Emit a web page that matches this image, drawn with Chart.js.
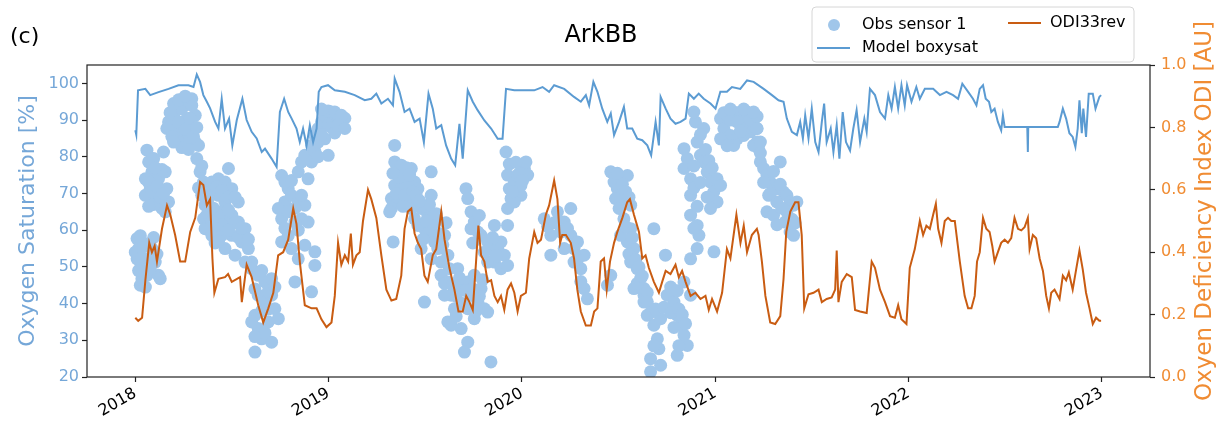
<!DOCTYPE html>
<html>
<head>
<meta charset="utf-8">
<script src="https://cdn.jsdelivr.net/npm/chart.js@4.4.1/dist/chart.umd.min.js"></script>
<style>
  html, body { margin: 0; padding: 0; background: #fff; }
  canvas { display: block; }
</style>
</head>
<body>
<canvas id="arkbb" width="1220" height="423"></canvas>
<script>
// ArkBB station: observed saturation, modelled saturation and the ODI index
const FONT = '"DejaVu Sans", sans-serif';

const yearTicks = [2018, 2019, 2020, 2021, 2022, 2023];
const saturationTicks = [20, 30, 40, 50, 60, 70, 80, 90, 100];
const odiTicks = [0, 0.2, 0.4, 0.6, 0.8, 1.0];

// [decimal year, oxygen saturation %]
const obsSensor1 = [
  [2018.009,57.7],[2018.017,55.0],[2018.009,52.2],[2018.026,49.5],[2018.034,46.8],[2018.026,45.0],[2018.052,56.3],[2018.069,52.2],
  [2018.086,55.0],[2018.103,51.3],[2018.120,47.7],[2018.129,46.8],[2018.043,50.4],[2018.060,47.7],
  [2018.000,54.0],[2018.017,49.0],[2018.034,52.5],[2018.043,55.5],[2018.077,49.5],[2018.095,58.0],[2018.112,53.5],[2018.026,58.5],[2018.052,44.5],
  [2018.060,81.8],[2018.069,78.6],[2018.086,75.9],[2018.052,74.0],[2018.077,71.3],[2018.103,69.5],[2018.120,67.7],[2018.138,65.9],
  [2018.052,69.5],[2018.120,74.0],[2018.155,75.9],[2018.146,81.3],[2018.163,71.3],[2018.095,79.5],[2018.172,67.7],[2018.155,65.0],
  [2018.069,73.0],[2018.086,70.5],[2018.095,67.0],[2018.112,72.0],[2018.129,69.0],[2018.138,76.5],[2018.069,66.5],[2018.103,77.0],[2018.146,70.0],
  [2018.172,89.5],[2018.206,92.2],[2018.241,93.1],[2018.275,94.9],[2018.292,94.0],[2018.310,91.3],[2018.206,87.7],[2018.241,86.8],
  [2018.275,84.9],[2018.292,87.7],[2018.163,87.7],[2018.224,84.0],[2018.310,84.0],[2018.267,90.4],[2018.189,90.4],[2018.327,83.1],[2018.292,95.8],
  [2018.180,92.0],[2018.198,94.5],[2018.224,95.5],[2018.258,96.5],[2018.224,89.5],[2018.258,87.5],[2018.284,90.5],[2018.301,85.5],
  [2018.318,88.0],[2018.189,85.5],[2018.241,82.5],[2018.275,82.0],[2018.198,84.0],
  [2018.318,79.5],[2018.335,75.9],[2018.353,73.1],[2018.344,69.5],[2018.361,66.8],[2018.370,64.1],[2018.353,63.1],
  [2018.396,73.1],[2018.430,74.0],[2018.464,73.1],[2018.499,71.3],[2018.533,67.7],[2018.430,69.5],[2018.464,67.7],[2018.499,64.1],
  [2018.533,62.2],[2018.568,60.4],[2018.430,65.0],[2018.464,62.2],[2018.499,58.6],[2018.550,56.8],[2018.585,55.0],[2018.602,51.3],
  [2018.378,64.1],[2018.413,60.4],[2018.447,58.6],[2018.464,55.0],[2018.516,53.2],[2018.568,51.3],[2018.361,60.4],[2018.378,68.6],
  [2018.482,76.8],[2018.396,58.6],
  [2018.327,71.5],[2018.344,77.5],[2018.387,70.5],[2018.404,66.0],[2018.421,71.8],[2018.447,70.8],[2018.447,64.0],[2018.482,69.0],
  [2018.482,65.5],[2018.516,69.0],[2018.516,62.0],[2018.413,56.5],[2018.447,61.5],[2018.482,60.0],[2018.533,58.0],[2018.550,60.5],
  [2018.585,57.5],[2018.396,62.5],[2018.430,57.0],
  [2018.602,49.5],[2018.636,47.7],[2018.671,45.9],[2018.705,46.8],[2018.636,42.3],[2018.671,40.4],[2018.705,42.3],[2018.722,38.6],
  [2018.619,36.8],[2018.636,33.2],[2018.654,30.4],[2018.705,29.5],[2018.619,26.8],[2018.602,35.0],[2018.740,35.9],[2018.688,35.0],
  [2018.619,44.0],[2018.654,38.0],[2018.688,43.5],[2018.671,32.0],[2018.619,31.0],[2018.688,38.5],[2018.722,44.5],[2018.654,49.0],
  [2018.757,74.9],[2018.791,71.3],[2018.774,67.7],[2018.808,69.5],[2018.843,67.7],[2018.877,66.8],[2018.860,63.1],[2018.826,62.2],
  [2018.894,62.2],[2018.740,65.9],[2018.757,63.1],[2018.774,73.1],
  [2018.757,56.8],[2018.808,55.0],[2018.843,52.2],[2018.877,55.9],[2018.929,54.1],[2018.929,50.4],[2018.826,45.9],[2018.912,43.2],
  [2018.791,65.0],[2018.808,73.5],[2018.826,66.0],[2018.860,69.5],[2018.774,60.5],[2018.791,58.5],[2018.843,60.0],
  [2018.843,75.9],[2018.860,78.6],[2018.877,80.4],[2018.912,83.1],[2018.929,85.8],[2018.946,87.7],[2018.963,89.5],[2018.980,91.3],
  [2019.015,92.2],[2019.032,90.4],[2018.998,88.6],[2018.912,78.6],[2018.998,80.4],[2018.894,74.0],[2018.980,84.9],[2019.049,91.3],
  [2018.929,81.5],[2018.946,84.0],[2018.963,86.0],[2018.998,92.5],[2019.015,88.0],[2018.963,93.0],[2019.032,86.5],[2019.066,88.5],
  [2019.084,90.5],[2018.946,80.0],
  [2019.032,92.2],[2019.066,91.3],[2019.049,88.6],[2019.084,87.7],[2019.342,83.1],
  [2019.342,78.6],[2019.376,77.7],[2019.359,75.0],[2019.393,74.0],[2019.428,76.8],[2019.342,72.2],[2019.376,71.3],[2019.411,72.2],
  [2019.445,73.1],[2019.325,68.6],[2019.359,67.7],[2019.411,68.6],[2019.445,67.7],[2019.462,71.3],[2019.428,65.9],[2019.325,65.9],
  [2019.531,75.9],[2019.334,56.8],[2019.316,65.0],
  [2019.351,70.0],[2019.368,74.5],[2019.393,69.5],[2019.402,77.0],[2019.419,75.0],[2019.436,70.5],[2019.385,66.5],[2019.453,69.5],[2019.333,75.5],
  [2019.479,65.9],[2019.514,64.1],[2019.548,62.2],[2019.531,69.5],[2019.514,58.6],[2019.548,56.8],[2019.565,55.0],[2019.600,58.6],
  [2019.582,51.3],[2019.617,53.2],[2019.496,60.4],[2019.462,61.3],[2019.479,55.0],[2019.531,52.2],[2019.445,63.1],
  [2019.497,66.5],[2019.505,62.5],[2019.522,67.0],[2019.540,60.0],[2019.557,64.5],[2019.574,59.0],[2019.591,56.0],[2019.488,57.5],
  [2019.471,68.0],[2019.608,62.0],
  [2019.582,47.7],[2019.617,45.9],[2019.634,42.3],[2019.668,49.5],[2019.686,44.1],[2019.720,45.9],[2019.737,42.3],[2019.754,47.7],
  [2019.772,40.4],[2019.806,38.6],[2019.789,44.1],[2019.651,38.6],[2019.600,42.3],[2019.496,40.4],[2019.720,38.6],[2019.754,35.9],
  [2019.617,35.0],[2019.634,34.1],[2019.686,33.2],[2019.720,29.5],[2019.703,26.8],[2019.823,37.7],[2019.840,24.1],
  [2019.600,45.5],[2019.625,49.5],[2019.642,45.0],[2019.660,42.0],[2019.677,47.0],[2019.694,40.0],[2019.711,43.5],[2019.746,44.0],
  [2019.763,38.0],[2019.780,42.0],[2019.797,46.5],[2019.660,36.5],
  [2019.711,71.3],[2019.720,68.6],[2019.737,65.0],[2019.754,62.2],[2019.789,58.6],[2019.823,56.8],[2019.840,55.0],[2019.858,51.3],
  [2019.892,49.5],[2019.823,51.3],[2019.858,61.3],[2019.737,60.4],[2019.875,55.0],[2019.909,53.2],[2019.926,50.4],[2019.892,56.8],[2019.926,61.3],
  [2019.746,56.5],[2019.772,59.5],[2019.806,54.0],[2019.849,58.0],[2019.866,53.0],[2019.780,64.0],
  [2019.918,81.3],[2019.926,75.0],[2019.935,71.3],[2019.944,68.6],[2019.926,65.9],[2019.961,73.1],[2019.978,75.0],[2019.995,72.2],
  [2020.013,76.8],[2020.021,78.6],[2019.995,69.5],[2019.961,67.7],[2020.030,75.0],
  [2019.935,78.0],[2019.952,70.5],[2019.969,78.5],[2019.987,75.5],[2020.004,73.5],
  [2020.460,75.9],[2020.477,73.1],[2020.494,71.3],[2020.511,69.5],[2020.528,67.7],[2020.546,74.9],[2020.563,66.8],[2020.485,68.6],[2020.503,65.9],
  [2020.494,75.5],[2020.520,72.5],[2020.537,70.5],[2020.554,69.0],
  [2020.116,63.1],[2020.150,58.6],[2020.184,65.0],[2020.219,62.2],[2020.253,65.9],[2020.253,58.6],[2020.288,56.8],[2020.322,53.2],
  [2020.305,49.5],[2020.322,44.1],[2020.339,41.3],[2020.219,55.0],[2020.150,53.2],[2020.270,51.3],
  [2020.133,61.0],[2020.167,62.0],[2020.201,59.5],[2020.236,60.5],[2020.270,55.0],[2020.288,52.0],[2020.305,46.0],
  [2020.443,45.0],[2020.460,47.7],[2020.528,63.1],[2020.563,60.4],[2020.546,56.8],[2020.580,55.0],[2020.563,51.3],[2020.597,49.5],
  [2020.614,46.8],[2020.632,44.1],[2020.580,44.1],[2020.632,42.3],[2020.511,58.6],
  [2020.537,61.0],[2020.554,53.5],[2020.572,58.0],[2020.589,52.0],[2020.606,50.0],[2020.597,45.5],[2020.623,47.5],[2020.649,43.0],
  [2020.632,40.4],[2020.649,36.8],[2020.683,34.1],[2020.701,30.4],[2020.709,27.7],[2020.718,35.9],[2020.752,42.3],[2020.787,40.4],
  [2020.804,36.8],[2020.821,34.1],[2020.839,31.4],[2020.856,28.6],[2020.804,25.9],[2020.666,25.0],[2020.718,23.2],[2020.666,21.4],
  [2020.873,42.3],[2020.839,45.9],
  [2020.649,40.5],[2020.666,37.5],[2020.692,38.5],[2020.735,39.0],[2020.770,37.5],[2020.787,33.5],[2020.812,38.5],[2020.830,37.0],
  [2020.683,28.5],[2020.847,34.5],[2020.812,28.5],[2020.770,44.5],[2020.804,43.5],
  [2020.683,60.4],[2020.743,53.2],[2020.873,52.2],[2020.907,55.0],[2020.994,54.1],
  [2020.839,82.2],[2020.839,76.8],[2020.873,74.0],[2020.873,69.5],[2020.873,64.1],[2020.907,61.3],[2020.898,89.5],[2020.907,84.0],
  [2020.924,80.4],[2020.941,78.6],[2020.959,75.9],[2020.976,73.1],[2020.993,70.4],[2021.010,67.7],[2020.976,65.9],[2020.941,87.7],
  [2020.890,92.2],[2021.010,74.0],[2021.028,72.2],[2020.916,58.6],
  [2020.856,79.5],[2020.890,71.5],[2020.890,77.5],[2020.924,73.0],[2020.924,86.0],[2020.950,82.0],[2020.967,79.0],[2020.985,77.0],
  [2020.907,66.5],[2020.890,60.5],[2020.959,69.0],
  [2021.028,90.4],[2021.062,91.3],[2021.096,92.2],[2021.131,92.2],[2021.165,92.2],[2021.199,91.3],[2021.045,87.7],[2021.079,85.8],
  [2021.114,84.9],[2021.148,85.8],[2021.182,86.8],[2021.217,87.7],[2021.028,84.9],[2021.096,83.1],[2021.217,84.0],[2021.148,89.5],
  [2021.045,92.0],[2021.079,90.0],[2021.114,89.5],[2021.165,88.0],[2021.199,88.5],[2021.062,83.0],[2021.131,87.0],[2021.182,90.0],
  [2021.079,93.0],[2021.148,93.0],[2021.217,91.0],
  [2021.199,92.2],[2021.216,87.7],[2021.225,82.2],[2021.234,78.6],[2021.251,76.8],[2021.268,75.0],[2021.285,73.1],[2021.302,72.2],
  [2021.319,71.3],[2021.337,78.6],[2021.354,70.4],[2021.371,69.5],[2021.388,67.7],[2021.406,66.8],[2021.268,65.0],[2021.302,64.1],
  [2021.362,62.2],[2021.388,59.5],[2021.406,58.6],[2021.199,83.1],[2021.234,84.0],[2021.423,67.7],[2021.319,67.7],[2021.277,69.5],
  [2021.234,81.0],[2021.251,73.0],[2021.285,70.0],[2021.302,76.0],[2021.337,72.5],[2021.371,65.0],[2021.397,63.0],[2021.345,66.0],
  [2021.320,61.5],[2021.414,62.0]
];

// [decimal year, modelled saturation %]
const modelBoxysat = [
  [2018.000,87.2],[2018.005,86.0],[2018.014,98.1],[2018.052,98.5],[2018.077,96.8],[2018.120,97.6],[2018.172,98.5],[2018.223,99.5],
  [2018.275,99.5],[2018.301,99.0],[2018.318,102.4],[2018.335,100.4],[2018.352,96.8],[2018.370,95.0],[2018.387,93.2],[2018.413,89.5],
  [2018.430,87.7],[2018.447,95.8],[2018.464,87.7],[2018.485,90.4],[2018.502,83.1],[2018.525,90.0],[2018.554,95.8],[2018.576,90.0],
  [2018.602,86.8],[2018.628,85.0],[2018.654,81.3],[2018.671,82.2],[2018.705,79.5],[2018.731,77.2],[2018.748,92.2],[2018.770,95.8],
  [2018.791,92.2],[2018.809,90.4],[2018.834,87.7],[2018.851,84.0],[2018.868,87.7],[2018.886,83.1],[2018.903,88.6],[2018.920,84.0],
  [2018.938,87.7],[2018.949,97.7],[2018.963,99.0],[2018.997,99.5],[2019.032,98.1],[2019.084,97.7],[2019.135,96.8],[2019.187,95.4],
  [2019.221,95.8],[2019.247,97.2],[2019.273,94.5],[2019.307,95.8],[2019.333,94.0],[2019.342,101.3],[2019.367,97.7],[2019.393,92.2],
  [2019.419,93.1],[2019.445,89.5],[2019.471,90.4],[2019.493,84.0],[2019.517,97.2],[2019.539,93.1],[2019.557,87.7],[2019.583,88.6],
  [2019.608,83.1],[2019.634,79.5],[2019.655,77.7],[2019.677,89.0],[2019.694,79.5],[2019.720,98.1],[2019.746,95.0],[2019.771,92.7],
  [2019.806,89.9],[2019.841,87.7],[2019.875,84.9],[2019.900,84.9],[2019.918,98.5],[2019.961,98.1],[2020.012,98.1],[2020.064,98.1],
  [2020.107,99.0],[2020.141,97.7],[2020.167,99.5],[2020.219,98.5],[2020.270,96.3],[2020.305,95.0],[2020.331,96.8],[2020.348,94.0],
  [2020.370,100.4],[2020.391,97.7],[2020.416,93.1],[2020.442,89.5],[2020.460,91.8],[2020.477,85.9],[2020.503,89.5],[2020.528,93.6],
  [2020.545,87.7],[2020.571,87.7],[2020.597,84.9],[2020.623,84.5],[2020.649,83.1],[2020.669,80.4],[2020.692,89.5],[2020.709,83.1],
  [2020.718,96.3],[2020.744,93.1],[2020.769,90.4],[2020.795,89.0],[2020.821,89.5],[2020.847,90.4],[2020.864,97.2],[2020.890,95.8],
  [2020.915,97.2],[2020.941,95.8],[2020.976,94.5],[2021.002,93.1],[2021.027,97.7],[2021.061,97.7],[2021.087,99.0],[2021.130,98.5],
  [2021.165,100.8],[2021.199,100.4],[2021.251,98.5],[2021.294,96.8],[2021.328,95.4],[2021.354,95.0],[2021.371,90.4],[2021.397,86.8],
  [2021.423,85.9],[2021.440,89.5],[2021.454,85.0],[2021.466,91.3],[2021.483,85.0],[2021.500,93.1],[2021.518,84.0],[2021.535,81.3],
  [2021.552,89.5],[2021.564,94.5],[2021.577,84.0],[2021.598,87.7],[2021.612,81.3],[2021.629,88.6],[2021.643,79.5],[2021.660,92.2],
  [2021.677,84.0],[2021.698,81.7],[2021.715,87.7],[2021.732,92.7],[2021.750,84.0],[2021.772,90.4],[2021.784,86.8],[2021.801,98.5],
  [2021.827,96.8],[2021.853,92.2],[2021.879,90.4],[2021.896,96.8],[2021.913,93.1],[2021.930,99.0],[2021.947,93.1],[2021.964,99.5],
  [2021.981,94.0],[2021.993,99.5],[2022.016,95.0],[2022.041,99.0],[2022.059,95.8],[2022.085,98.5],[2022.128,98.5],[2022.163,96.8],
  [2022.197,97.7],[2022.231,96.8],[2022.257,95.8],[2022.279,99.9],[2022.309,97.7],[2022.334,95.8],[2022.352,94.0],[2022.369,98.5],
  [2022.386,99.5],[2022.400,95.8],[2022.417,95.0],[2022.429,92.2],[2022.446,93.1],[2022.463,89.5],[2022.480,87.2],[2022.489,91.3],
  [2022.498,88.1],[2022.615,88.1],[2022.618,81.3],[2022.620,88.1],[2022.773,88.1],[2022.782,89.5],[2022.799,93.1],[2022.816,90.4],
  [2022.833,86.4],[2022.850,85.4],[2022.864,82.7],[2022.876,87.7],[2022.885,95.4],[2022.897,86.4],[2022.905,93.1],[2022.919,85.4],
  [2022.933,97.2],[2022.954,97.2],[2022.968,93.1],[2022.988,96.3],[2022.997,96.8]
];

// [decimal year, oxygen deficiency index]
const odi33rev = [
  [2018.000,0.19],[2018.015,0.18],[2018.035,0.19],[2018.052,0.31],[2018.072,0.43],[2018.086,0.40],[2018.100,0.42],[2018.112,0.37],
  [2018.138,0.475],[2018.164,0.55],[2018.181,0.52],[2018.206,0.455],[2018.232,0.37],[2018.258,0.37],[2018.284,0.465],[2018.310,0.51],
  [2018.335,0.625],[2018.352,0.615],[2018.370,0.55],[2018.387,0.57],[2018.399,0.38],[2018.409,0.27],[2018.430,0.315],[2018.464,0.32],
  [2018.480,0.33],[2018.499,0.305],[2018.542,0.32],[2018.551,0.24],[2018.576,0.36],[2018.602,0.32],[2018.636,0.23],[2018.662,0.175],
  [2018.688,0.22],[2018.714,0.27],[2018.739,0.39],[2018.765,0.40],[2018.791,0.44],[2018.817,0.54],[2018.834,0.49],[2018.851,0.37],
  [2018.877,0.23],[2018.912,0.22],[2018.938,0.22],[2018.963,0.185],[2018.989,0.16],[2019.015,0.175],[2019.032,0.26],[2019.049,0.43],
  [2019.066,0.36],[2019.084,0.39],[2019.101,0.37],[2019.115,0.46],[2019.126,0.36],[2019.144,0.39],[2019.161,0.40],[2019.178,0.50],
  [2019.204,0.60],[2019.221,0.57],[2019.247,0.51],[2019.273,0.39],[2019.299,0.28],[2019.325,0.245],[2019.350,0.25],[2019.376,0.325],
  [2019.393,0.475],[2019.410,0.53],[2019.428,0.54],[2019.445,0.46],[2019.462,0.43],[2019.479,0.41],[2019.496,0.325],[2019.513,0.305],
  [2019.539,0.39],[2019.557,0.41],[2019.583,0.53],[2019.600,0.44],[2019.625,0.35],[2019.651,0.28],[2019.672,0.21],[2019.694,0.21],
  [2019.712,0.26],[2019.729,0.24],[2019.746,0.215],[2019.763,0.37],[2019.775,0.485],[2019.789,0.39],[2019.806,0.37],[2019.823,0.305],
  [2019.841,0.31],[2019.858,0.26],[2019.875,0.24],[2019.892,0.26],[2019.909,0.215],[2019.926,0.28],[2019.944,0.30],[2019.961,0.27],
  [2019.978,0.21],[2019.995,0.26],[2020.021,0.27],[2020.038,0.38],[2020.064,0.465],[2020.081,0.43],[2020.099,0.44],[2020.124,0.52],
  [2020.141,0.55],[2020.167,0.63],[2020.184,0.57],[2020.198,0.43],[2020.209,0.455],[2020.228,0.455],[2020.253,0.43],[2020.270,0.38],
  [2020.287,0.28],[2020.305,0.21],[2020.331,0.165],[2020.357,0.165],[2020.374,0.21],[2020.391,0.22],[2020.408,0.37],[2020.425,0.38],
  [2020.439,0.28],[2020.456,0.37],[2020.477,0.43],[2020.494,0.465],[2020.520,0.51],[2020.545,0.56],[2020.559,0.57],[2020.580,0.52],
  [2020.606,0.465],[2020.623,0.38],[2020.640,0.39],[2020.657,0.35],[2020.683,0.305],[2020.709,0.27],[2020.726,0.305],[2020.744,0.34],
  [2020.769,0.33],[2020.795,0.36],[2020.812,0.32],[2020.829,0.34],[2020.847,0.305],[2020.873,0.26],[2020.898,0.27],[2020.924,0.25],
  [2020.950,0.26],[2020.967,0.215],[2020.984,0.25],[2021.010,0.21],[2021.036,0.27],[2021.061,0.41],[2021.079,0.38],[2021.110,0.52],
  [2021.131,0.43],[2021.148,0.485],[2021.165,0.40],[2021.190,0.455],[2021.216,0.475],[2021.225,0.455],[2021.242,0.37],[2021.260,0.26],
  [2021.285,0.175],[2021.311,0.17],[2021.337,0.195],[2021.354,0.315],[2021.368,0.465],[2021.389,0.53],[2021.414,0.56],[2021.431,0.56],
  [2021.448,0.455],[2021.461,0.22],[2021.483,0.265],[2021.509,0.27],[2021.535,0.28],[2021.552,0.24],[2021.577,0.25],[2021.603,0.255],
  [2021.621,0.28],[2021.629,0.405],[2021.638,0.24],[2021.655,0.305],[2021.681,0.33],[2021.707,0.32],[2021.724,0.215],[2021.750,0.21],
  [2021.784,0.205],[2021.810,0.37],[2021.827,0.35],[2021.853,0.28],[2021.879,0.24],[2021.905,0.195],[2021.930,0.19],[2021.947,0.23],
  [2021.964,0.185],[2021.990,0.17],[2022.007,0.35],[2022.033,0.41],[2022.059,0.50],[2022.076,0.455],[2022.093,0.485],[2022.111,0.475],
  [2022.128,0.52],[2022.142,0.555],[2022.154,0.475],[2022.171,0.43],[2022.188,0.50],[2022.205,0.51],[2022.222,0.50],[2022.240,0.50],
  [2022.266,0.37],[2022.291,0.26],[2022.309,0.22],[2022.326,0.22],[2022.343,0.26],[2022.355,0.37],[2022.369,0.40],[2022.386,0.51],
  [2022.403,0.475],[2022.420,0.465],[2022.434,0.42],[2022.446,0.37],[2022.463,0.40],[2022.480,0.43],[2022.498,0.44],[2022.515,0.43],
  [2022.532,0.445],[2022.549,0.51],[2022.567,0.475],[2022.584,0.47],[2022.601,0.48],[2022.618,0.51],[2022.627,0.41],[2022.644,0.455],
  [2022.661,0.445],[2022.679,0.38],[2022.696,0.34],[2022.713,0.26],[2022.727,0.22],[2022.739,0.27],[2022.756,0.28],[2022.782,0.25],
  [2022.799,0.325],[2022.816,0.31],[2022.830,0.335],[2022.850,0.28],[2022.868,0.345],[2022.885,0.405],[2022.902,0.345],[2022.919,0.27],
  [2022.937,0.22],[2022.954,0.17],[2022.971,0.19],[2022.988,0.18],[2022.997,0.18]
];

const COLOR_OBS = '#a0c6ea';
const COLOR_MODEL = '#5b9bd2';
const COLOR_ODI = '#c95c12';
const COLOR_SAT_AXIS = '#75a7d8';
const COLOR_ODI_AXIS = '#f08c33';

const toPoints = rows => rows.map(([x, y]) => ({ x, y }));
const fixedTicks = values => scale => { scale.ticks = values.map(value => ({ value })); };

// title, panel tag, axis labels, frame and legend
const decorations = {
  id: 'decorations',
  afterDraw(chart) {
    const { ctx, chartArea: a } = chart;
    ctx.save();
    ctx.strokeStyle = '#222';
    ctx.lineWidth = 1.2;
    ctx.strokeRect(a.left, a.top, a.right - a.left, a.bottom - a.top);

    ctx.fillStyle = '#000';
    ctx.textBaseline = 'alphabetic';
    ctx.font = '22px ' + FONT;
    ctx.textAlign = 'left';
    ctx.fillText('(c)', 10, 43);
    ctx.font = '24px ' + FONT;
    ctx.textAlign = 'center';
    ctx.fillText('ArkBB', 601, 42);

    const midY = (a.top + a.bottom) / 2;
    ctx.textBaseline = 'middle';
    ctx.save();
    ctx.translate(28, midY);
    ctx.rotate(-Math.PI / 2);
    ctx.fillStyle = COLOR_SAT_AXIS;
    ctx.font = '22px ' + FONT;
    ctx.fillText('Oxygen Saturation [%]', 0, 0);
    ctx.restore();
    ctx.save();
    ctx.translate(1205, midY - 10);
    ctx.rotate(-Math.PI / 2);
    ctx.fillStyle = COLOR_ODI_AXIS;
    ctx.font = '23px ' + FONT;
    ctx.fillText('Oxyen Deficiency Index ODI [AU]', 0, 0);
    ctx.restore();

    // legend box
    const bx = 812, by = 7, bw = 322, bh = 55, r = 4;
    ctx.beginPath();
    ctx.moveTo(bx + r, by);
    ctx.arcTo(bx + bw, by, bx + bw, by + bh, r);
    ctx.arcTo(bx + bw, by + bh, bx, by + bh, r);
    ctx.arcTo(bx, by + bh, bx, by, r);
    ctx.arcTo(bx, by, bx + bw, by, r);
    ctx.closePath();
    ctx.fillStyle = 'rgba(255,255,255,0.85)';
    ctx.fill();
    ctx.strokeStyle = '#d6d6d6';
    ctx.lineWidth = 1;
    ctx.stroke();

    ctx.fillStyle = COLOR_OBS;
    ctx.beginPath();
    ctx.arc(834, 25, 6, 0, Math.PI * 2);
    ctx.fill();
    ctx.lineWidth = 2;
    ctx.strokeStyle = COLOR_MODEL;
    ctx.beginPath(); ctx.moveTo(817, 48); ctx.lineTo(850, 48); ctx.stroke();
    ctx.strokeStyle = COLOR_ODI;
    ctx.beginPath(); ctx.moveTo(1008, 23); ctx.lineTo(1041, 23); ctx.stroke();

    ctx.fillStyle = '#000';
    ctx.font = '16px ' + FONT;
    ctx.textAlign = 'left';
    ctx.fillText('Obs sensor 1', 862, 25);
    ctx.fillText('Model boxysat', 862, 48);
    ctx.fillText('ODI33rev', 1050, 23);
    ctx.restore();
  }
};

new Chart(document.getElementById('arkbb'), {
  data: {
    datasets: [
      {
        type: 'line',
        label: 'ODI33rev',
        data: toPoints(odi33rev),
        yAxisID: 'yOdi',
        borderColor: COLOR_ODI,
        borderWidth: 2,
        pointRadius: 0,
        tension: 0,
        order: 0
      },
      {
        type: 'line',
        label: 'Model boxysat',
        data: toPoints(modelBoxysat),
        yAxisID: 'ySat',
        borderColor: COLOR_MODEL,
        borderWidth: 2,
        pointRadius: 0,
        tension: 0,
        order: 1
      },
      {
        type: 'scatter',
        label: 'Obs sensor 1',
        data: toPoints(obsSensor1),
        yAxisID: 'ySat',
        backgroundColor: COLOR_OBS,
        borderWidth: 0,
        pointRadius: 6.5,
        order: 2
      }
    ]
  },
  options: {
    responsive: false,
    animation: false,
    devicePixelRatio: 1,
    layout: { padding: { top: 65, left: 0, right: 0, bottom: 0 } },
    plugins: { legend: { display: false }, tooltip: { enabled: false } },
    scales: {
      x: {
        type: 'linear',
        min: 2017.75,
        max: 2023.25,
        afterBuildTicks: fixedTicks(yearTicks),
        afterFit: s => { s.height = 46; },
        border: { display: false },
        grid: { drawOnChartArea: false, tickLength: 5, tickColor: '#222', tickWidth: 1.2 },
        ticks: {
          callback: v => String(v),
          minRotation: 30,
          maxRotation: 30,
          padding: 2,
          color: '#000',
          font: { family: FONT, size: 16 }
        }
      },
      ySat: {
        type: 'linear',
        position: 'left',
        min: 20,
        max: 105,
        afterBuildTicks: fixedTicks(saturationTicks),
        afterFit: s => { s.width = 87; },
        border: { display: false },
        grid: { drawOnChartArea: false, tickLength: 5, tickColor: '#222', tickWidth: 1.2 },
        ticks: { padding: 3, color: COLOR_SAT_AXIS, font: { family: FONT, size: 16 } }
      },
      yOdi: {
        type: 'linear',
        position: 'right',
        min: 0,
        max: 1,
        afterBuildTicks: fixedTicks(odiTicks),
        afterFit: s => { s.width = 70; },
        border: { display: false },
        grid: { drawOnChartArea: false, tickLength: 5, tickColor: '#222', tickWidth: 1.2 },
        ticks: {
          callback: v => v.toFixed(1),
          padding: 6,
          color: COLOR_ODI_AXIS,
          font: { family: FONT, size: 16 }
        }
      }
    }
  },
  plugins: [decorations]
});
</script>
</body>
</html>
